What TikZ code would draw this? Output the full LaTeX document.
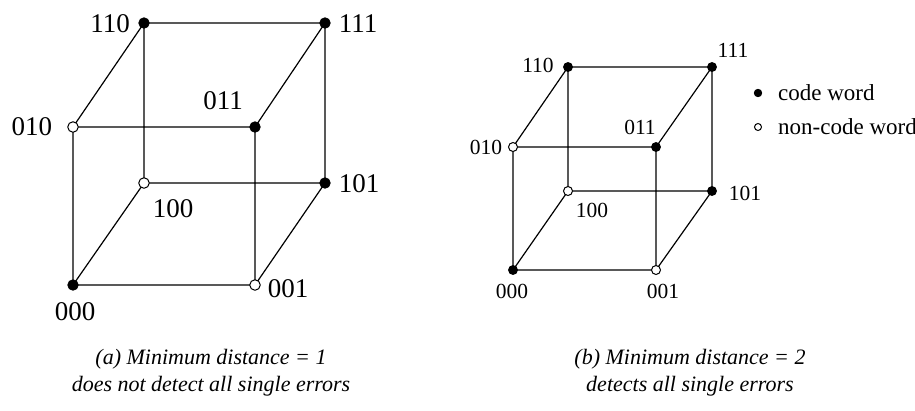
\documentclass[tikz,border=0pt]{standalone}
\usepackage{fontspec}
\setmainfont{Liberation Serif}
\begin{document}
\begin{tikzpicture}[x=1pt,y=-1pt,
  edge/.style={line width=1.2pt,black},
  cw/.style={circle,fill=black,draw=black,line width=0.8pt,inner sep=0pt,minimum size=10.5pt},
  ncw/.style={circle,fill=white,draw=black,line width=1pt,inner sep=0pt,minimum size=10.5pt},
  cws/.style={cw,minimum size=9pt},
  ncws/.style={ncw,minimum size=9pt},
  biglab/.style={font=\fontsize{27}{30}\selectfont,inner sep=0pt},
  smalllab/.style={font=\fontsize{21.5}{24}\selectfont,inner sep=0pt},
  leglab/.style={font=\fontsize{23}{26}\selectfont,inner sep=0pt,anchor=west},
  caption/.style={font=\fontsize{22}{27}\selectfont\itshape,align=center,inner sep=0pt}]
\useasboundingbox (0,0) rectangle (915,410);
% ---- left cube ----
\coordinate (a110) at (144,23);
\coordinate (a111) at (325,23);
\coordinate (a010) at (73,127);
\coordinate (a011) at (255,127);
\coordinate (a100) at (144,183);
\coordinate (a101) at (325,183);
\coordinate (a000) at (73,285);
\coordinate (a001) at (255,285);
\draw[edge] (a110) -- (a111) (a110) -- (a010) (a110) -- (a100)
  (a111) -- (a011) (a111) -- (a101) (a010) -- (a011) (a010) -- (a000)
  (a011) -- (a001) (a100) -- (a101) (a100) -- (a000) (a101) -- (a001)
  (a000) -- (a001);
\node[cw] (d110) at (a110) {};
\node[cw] (d111) at (a111) {};
\node[ncw] (d010) at (a010) {};
\node[cw] (d011) at (a011) {};
\node[ncw] (d100) at (a100) {};
\node[cw] (d101) at (a101) {};
\node[cw] (d000) at (a000) {};
\node[ncw] (d001) at (a001) {};
\node[biglab] (l110) at (110,24) {110};
\node[biglab] (l111) at (358,24) {111};
\node[biglab] (l010) at (32,127) {010};
\node[biglab] (l011) at (223,101) {011};
\node[biglab] (l100) at (173,209) {100};
\node[biglab] (l101) at (359,184) {101};
\node[biglab] (l000) at (75,312) {000};
\node[biglab] (l001) at (288,289) {001};
% ---- right cube ----
\coordinate (b110) at (568,67);
\coordinate (b111) at (712,67);
\coordinate (b010) at (513,147);
\coordinate (b011) at (656,147);
\coordinate (b100) at (568,191);
\coordinate (b101) at (712,191);
\coordinate (b000) at (513,270);
\coordinate (b001) at (656,270);
\draw[edge] (b110) -- (b111) (b110) -- (b010) (b110) -- (b100)
  (b111) -- (b011) (b111) -- (b101) (b010) -- (b011) (b010) -- (b000)
  (b011) -- (b001) (b100) -- (b101) (b100) -- (b000) (b101) -- (b001)
  (b000) -- (b001);
\node[cws] (e110) at (b110) {};
\node[cws] (e111) at (b111) {};
\node[ncws] (e010) at (b010) {};
\node[cws] (e011) at (b011) {};
\node[ncws] (e100) at (b100) {};
\node[cws] (e101) at (b101) {};
\node[cws] (e000) at (b000) {};
\node[ncws] (e001) at (b001) {};
\node[smalllab] (m110) at (538,65) {110};
\node[smalllab] (m111) at (733,50) {111};
\node[smalllab] (m010) at (486,147) {010};
\node[smalllab] (m011) at (640,127) {011};
\node[smalllab] (m100) at (592,210) {100};
\node[smalllab] (m101) at (745,193) {101};
\node[smalllab] (m000) at (512,291) {000};
\node[smalllab] (m001) at (663,291) {001};
% ---- legend ----
\node[cw,minimum size=7.5pt] (k1) at (758,93) {};
\node[ncw,minimum size=7pt] (k2) at (758,127) {};
\node[leglab] (t1) at (778,93) {code word};
\node[leglab] (t2) at (778,127) {non-code word};
% ---- captions ----
\node[caption] (capa) at (211,373) {(a) Minimum distance = 1\\does not detect all single errors};
\node[caption] (capb) at (690,373) {(b) Minimum distance = 2\\detects all single errors};
\end{tikzpicture}
\end{document}
